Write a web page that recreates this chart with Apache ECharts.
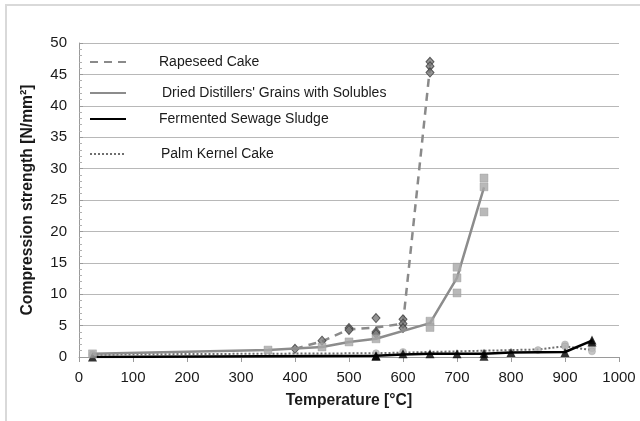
<!DOCTYPE html>
<html>
<head>
<meta charset="utf-8">
<script src="https://cdn.jsdelivr.net/npm/echarts@6/dist/echarts.min.js"></script>
<style>
  html, body { margin: 0; padding: 0; background: #fff; }
  #chart { width: 640px; height: 421px; }
</style>
</head>
<body>
<div id="chart"></div>
<script>
// Compression strength of pellets vs. heat-treatment temperature
const seriesNames = [
  'Rapeseed Cake',
  "Dried Distillers' Grains with Solubles",
  'Fermented Sewage Sludge',
  'Palm Kernel Cake'
];

// mean curves [temperature °C, strength N/mm²]
const rapeseedMean = [[400, 1.3], [450, 2.5], [500, 4.4], [550, 4.7], [600, 5.3], [650, 46.2]];
const ddgsMean = [[25, 0.5], [350, 1.1], [450, 1.6], [500, 2.4], [550, 2.9], [650, 5.4], [700, 12.6], [750, 27.0]];
const sludgeMean = [[25, 0.0], [550, 0.2], [600, 0.4], [650, 0.5], [700, 0.5], [750, 0.5], [800, 0.7], [900, 0.8], [950, 2.6]];
const palmMean = [[25, 0.4], [550, 0.6], [600, 0.7], [850, 1.2], [900, 1.7], [950, 1.1]];

// individual measurements
const rapeseedPoints = [[400, 1.3], [450, 2.6], [500, 4.6], [500, 4.3], [550, 6.2], [550, 4.0], [550, 3.7],
  [600, 6.0], [600, 5.3], [600, 4.6], [650, 47.0], [650, 46.3], [650, 45.3]];
const ddgsPoints = [[25, 0.5], [350, 1.1], [450, 1.6], [500, 2.4], [550, 2.9], [650, 5.7], [650, 4.7],
  [700, 14.3], [700, 12.6], [700, 10.2], [750, 28.5], [750, 27.1], [750, 23.1]];
const sludgePoints = [[25, 0.0], [550, 0.2], [550, 0.1], [600, 0.5], [650, 0.5], [700, 0.5], [750, 0.6], [750, 0.1],
  [800, 0.7], [900, 0.7], [950, 2.7], [950, 2.4]];
const palmPoints = [[25, 0.4], [550, 0.6], [600, 0.8], [850, 1.1], [900, 2.0], [900, 1.7], [950, 1.4], [950, 0.9]];

const xTicks = { min: 0, max: 1000, step: 100 };
const yTicks = { min: 0, max: 50, step: 5 };

const font = "'Liberation Sans', Arial, sans-serif";

const chart = echarts.init(document.getElementById('chart'), null, { renderer: 'canvas' });

function legendAt(name, top, pad) {
  return {
    show: true,
    data: [name],
    left: 89,
    top: top,
    orient: 'horizontal',
    padding: 0,
    itemWidth: 36,
    itemHeight: 14,
    selectedMode: false,
    itemStyle: { opacity: 0 },
    textStyle: { fontFamily: font, fontSize: 14, color: '#1a1a1a', padding: [0, 0, 0, pad] }
  };
}

chart.setOption({
  animation: false,
  backgroundColor: '#fff',
  graphic: [{
    type: 'rect',
    shape: { x: 6, y: 5, width: 640, height: 425 },
    style: { fill: 'none', stroke: '#d9d9d9', lineWidth: 2 },
    silent: true,
    z: -10
  }],
  legend: [
    legendAt(seriesNames[0], 55, 28),
    legendAt(seriesNames[1], 86, 31),
    legendAt(seriesNames[2], 112, 28),
    legendAt(seriesNames[3], 147, 30)
  ],
  grid: { left: 79, right: 21, top: 43, bottom: 64 },
  xAxis: {
    type: 'value',
    min: xTicks.min, max: xTicks.max, interval: xTicks.step,
    name: 'Temperature [°C]',
    nameLocation: 'middle',
    nameGap: 36,
    nameTextStyle: { fontFamily: font, fontSize: 15.7, fontWeight: 'bold', color: '#1a1a1a' },
    axisLine: { show: true, lineStyle: { color: '#9a9a9a', width: 1 } },
    axisTick: { show: true, length: 5, lineStyle: { color: '#9a9a9a' } },
    axisLabel: { fontFamily: font, fontSize: 15, color: '#1a1a1a', margin: 13, formatter: v => String(v) },
    splitLine: { show: false }
  },
  yAxis: {
    type: 'value',
    min: yTicks.min, max: yTicks.max, interval: yTicks.step,
    name: 'Compression strength [N/mm²]',
    nameLocation: 'middle',
    nameGap: 43,
    nameTextStyle: { fontFamily: font, fontSize: 15.7, fontWeight: 'bold', color: '#1a1a1a' },
    axisLine: { show: true, lineStyle: { color: '#9a9a9a', width: 1 } },
    axisTick: { show: true, inside: true, length: 4, lineStyle: { color: '#9a9a9a' } },
    minorTick: { show: true, splitNumber: 5, length: 3, lineStyle: { color: '#b0b0b0' } },
    axisLabel: { fontFamily: font, fontSize: 15, color: '#1a1a1a', margin: 12, formatter: v => String(v) },
    splitLine: { show: true, lineStyle: { color: '#b8b8b8', width: 1 } }
  },
  series: [
    // palm kernel cake
    {
      name: seriesNames[3], type: 'line', data: palmMean, symbol: 'none', z: 2,
      itemStyle: { color: '#6e6e6e' },
      lineStyle: { color: '#6e6e6e', width: 2, type: [2, 2] }
    },
    {
      type: 'scatter', data: palmPoints, symbol: 'circle', symbolSize: 7, z: 2,
      itemStyle: { color: '#b5b5b5', borderColor: '#9a9a9a', borderWidth: 0.5 }
    },
    // fermented sewage sludge
    {
      name: seriesNames[2], type: 'line', data: sludgeMean, symbol: 'none', z: 3,
      itemStyle: { color: '#000' },
      lineStyle: { color: '#000', width: 2.5 }
    },
    {
      type: 'scatter', data: sludgePoints, symbol: 'triangle', symbolSize: [9, 9], z: 3,
      itemStyle: { color: '#000' }
    },
    // rapeseed cake
    {
      name: seriesNames[0], type: 'line', data: rapeseedMean, symbol: 'none', z: 4,
      itemStyle: { color: '#8a8a8a' },
      lineStyle: { color: '#8a8a8a', width: 2.5, type: [8, 6] }
    },
    {
      type: 'scatter', data: rapeseedPoints, symbol: 'diamond', symbolSize: [8, 9], z: 4,
      itemStyle: { color: '#7a7a7a', borderColor: '#3c3c3c', borderWidth: 1 }
    },
    // dried distillers' grains with solubles
    {
      name: seriesNames[1], type: 'line', data: ddgsMean, symbol: 'none', z: 5,
      itemStyle: { color: '#8c8c8c' },
      lineStyle: { color: '#8c8c8c', width: 2.5 }
    },
    {
      type: 'scatter', data: ddgsPoints, symbol: 'rect', symbolSize: 8, z: 5,
      itemStyle: { color: '#a8a8a8', borderColor: '#9a9a9a', borderWidth: 0.5 }
    }
  ]
});
</script>
</body>
</html>
